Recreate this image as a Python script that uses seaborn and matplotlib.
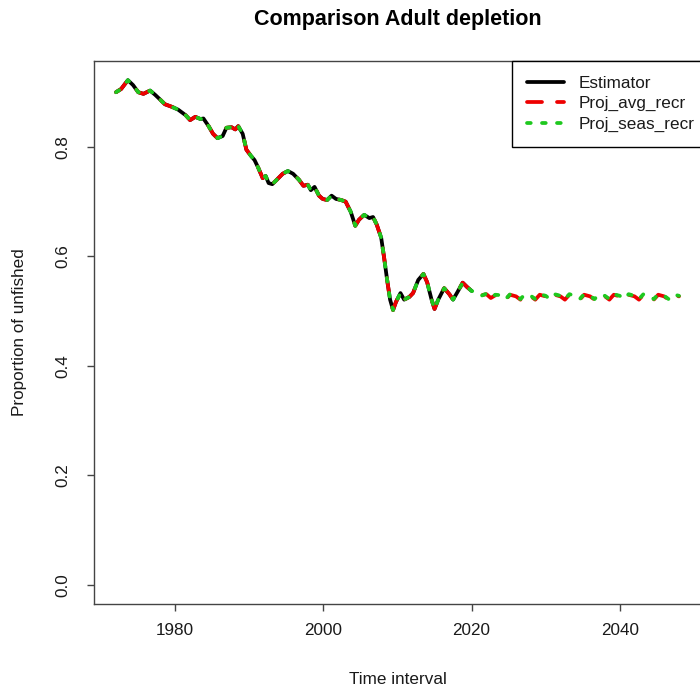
import numpy as np
import pandas as pd
import matplotlib
matplotlib.use("Agg")
import matplotlib.pyplot as plt
import seaborn as sns

# ---------------- data ----------------
hist_years = [1972.0, 1972.7, 1973.6, 1974.3, 1975.0, 1975.7, 1976.6, 1977.3, 1978.0, 1978.6,
              1979.6, 1980.4, 1981.4, 1982.0, 1982.7, 1983.4, 1983.8, 1984.5, 1985.1, 1985.7,
              1986.4, 1986.9, 1987.6, 1988.1, 1988.5, 1989.1, 1989.6, 1990.2, 1990.7, 1991.2,
              1991.8, 1992.2, 1992.6, 1993.1, 1993.7, 1994.5, 1995.2, 1995.9, 1996.7, 1997.3,
              1997.9, 1998.3, 1998.8, 1999.4, 1999.9, 2000.5, 2001.1, 2001.7, 2002.4, 2003.0,
              2003.7, 2004.3, 2004.8, 2005.5, 2006.2, 2006.7, 2007.2, 2007.8, 2008.2, 2008.6,
              2009.0, 2009.4, 2009.8, 2010.4, 2010.9, 2011.6, 2012.1, 2012.8, 2013.5, 2014.0,
              2014.6, 2015.0, 2015.5, 2016.3, 2017.0, 2017.5, 2018.1, 2018.8, 2019.4, 2020.0]
hist_vals = [0.900, 0.906, 0.922, 0.913, 0.900, 0.897, 0.903, 0.895, 0.886, 0.878,
             0.873, 0.868, 0.858, 0.849, 0.855, 0.851, 0.852, 0.838, 0.824, 0.816,
             0.820, 0.835, 0.836, 0.832, 0.838, 0.824, 0.795, 0.784, 0.776, 0.762,
             0.743, 0.747, 0.734, 0.732, 0.740, 0.751, 0.756, 0.751, 0.740, 0.729,
             0.731, 0.721, 0.727, 0.711, 0.705, 0.703, 0.711, 0.705, 0.703, 0.700,
             0.681, 0.656, 0.667, 0.676, 0.670, 0.672, 0.658, 0.634, 0.597, 0.557,
             0.521, 0.502, 0.517, 0.533, 0.521, 0.526, 0.533, 0.557, 0.568, 0.553,
             0.521, 0.504, 0.521, 0.542, 0.531, 0.521, 0.535, 0.552, 0.544, 0.537]

proj_years = [2020.7, 2021.3, 2022.0, 2022.6, 2023.2, 2024.0, 2024.6, 2025.2, 2026.0, 2026.6,
              2027.2, 2028.0, 2028.6, 2029.2, 2030.0, 2030.6, 2031.2, 2032.0, 2032.6, 2033.2,
              2034.0, 2034.6, 2035.2, 2036.0, 2036.6, 2037.2, 2038.0, 2038.6, 2039.2, 2040.0,
              2040.6, 2041.2, 2042.0, 2042.6, 2043.2, 2044.0, 2044.6, 2045.2, 2046.0, 2046.6,
              2047.2, 2048.0]
avg_vals = [0.533, 0.529, 0.531, 0.524, 0.529, 0.527, 0.521, 0.530, 0.527, 0.521,
            0.530, 0.527, 0.521, 0.530, 0.527, 0.521, 0.530, 0.527, 0.521, 0.530,
            0.527, 0.521, 0.530, 0.527, 0.521, 0.530, 0.527, 0.521, 0.530, 0.527,
            0.521, 0.530, 0.527, 0.521, 0.530, 0.527, 0.521, 0.530, 0.527, 0.521,
            0.530, 0.527]
seas_vals = [0.534, 0.528, 0.532, 0.525, 0.530, 0.529, 0.522, 0.531, 0.528, 0.522,
             0.531, 0.528, 0.522, 0.531, 0.528, 0.522, 0.531, 0.528, 0.522, 0.531,
             0.528, 0.522, 0.531, 0.528, 0.522, 0.531, 0.528, 0.522, 0.531, 0.528,
             0.522, 0.531, 0.528, 0.522, 0.531, 0.528, 0.522, 0.531, 0.528, 0.522,
             0.531, 0.528]

series_names = ["Estimator", "Proj_avg_recr", "Proj_seas_recr"]
x_ticks = [1980, 2000, 2020, 2040]
y_ticks = [0.0, 0.2, 0.4, 0.6, 0.8]
y_tick_labels = ["0.0", "0.2", "0.4", "0.6", "0.8"]

df_est = pd.DataFrame({"year": hist_years, "value": hist_vals})
df_avg = pd.DataFrame({"year": hist_years + proj_years, "value": hist_vals + avg_vals})
df_seas = pd.DataFrame({"year": hist_years + proj_years, "value": hist_vals + seas_vals})

# ---------------- style ----------------
sns.set_theme(style="white")
plt.rcParams["font.family"] = ["Liberation Sans", "DejaVu Sans"]
FS = 12.3
TXT = "#1a1a1a"
AX = "#444444"

W, H = 700, 695
fig = plt.figure(figsize=(W / 100, H / 100), dpi=100)
left, right, top, bottom = 93.5, 701.5, 61, 604
ax = fig.add_axes([left / W, (H - bottom) / H, (right - left) / W, (bottom - top) / H])

LW = 2.7
sns.lineplot(data=df_est, x="year", y="value", ax=ax, color="black", linewidth=LW,
             sort=False, estimator=None, label=series_names[0])
sns.lineplot(data=df_avg, x="year", y="value", ax=ax, color="#ee0000", linewidth=LW,
             sort=False, estimator=None, label=series_names[1],
             linestyle=(0, (4, 4)), dash_capstyle="round")
sns.lineplot(data=df_seas, x="year", y="value", ax=ax, color="#1ec81e", linewidth=LW,
             sort=False, estimator=None, label=series_names[2],
             linestyle=(0, (1, 3)), dash_capstyle="round")

ax.set_xlim(1968.96, 2051.04)
ax.set_ylim(-0.035, 0.957)
ax.set_xticks(x_ticks)
ax.set_xticklabels([str(t) for t in x_ticks])
ax.set_yticks(y_ticks)
ax.set_yticklabels(y_tick_labels, rotation=90, va="center")

for s in ax.spines.values():
    s.set_color(AX)
    s.set_linewidth(1.0)
ax.tick_params(axis="both", direction="out", length=5, width=1.0, color=AX,
               labelsize=FS, labelcolor=TXT)
ax.tick_params(axis="x", pad=9, bottom=True)
ax.tick_params(axis="y", pad=12, left=True)

ax.set_xlabel("Time interval", fontsize=FS, color=TXT)
ax.set_ylabel("Proportion of unfished", fontsize=FS, color=TXT)
ax.xaxis.set_label_coords(((left + right) / 2 - left) / (right - left), -(680 - bottom) / (bottom - top))
ax.xaxis.label.set_va("center")
ax.yaxis.set_label_coords(-(left - 20) / (right - left), 0.5)
ax.yaxis.label.set_va("center")
ax.yaxis.label.set_ha("center")

ax.set_title("Comparison Adult depletion", fontsize=15.5, fontweight="bold", color="black",
             y=(bottom - 19) / (bottom - top), va="center", pad=0)

leg = ax.legend(loc="upper right", bbox_to_anchor=(1.0 + 8 / (right - left), 1.0), borderaxespad=0,
                frameon=True, fancybox=False, framealpha=1, edgecolor="black",
                fontsize=FS, handlelength=2.2, handletextpad=0.85, borderpad=0.85,
                labelspacing=0.34)
leg.get_frame().set_linewidth(1.0)
for t in leg.get_texts():
    t.set_color(TXT)

fig.savefig("out.png", dpi=100)
